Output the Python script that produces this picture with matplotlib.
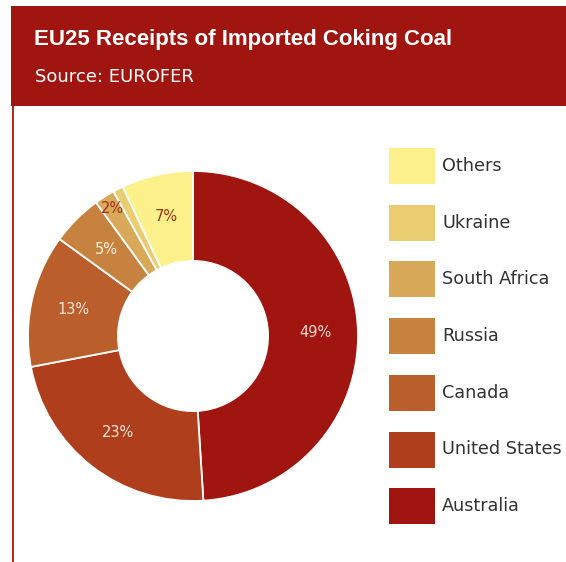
import matplotlib
matplotlib.use("Agg")
import matplotlib.pyplot as plt
from matplotlib.patches import Rectangle

# Share of EU25 coking coal imports by origin (percent)
countries = ["Australia", "United States", "Canada", "Russia",
             "South Africa", "Ukraine", "Others"]
shares = [49, 23, 13, 5, 2, 1, 7]
colors = ["#A0150F", "#AF3F1C", "#BA5E2C", "#C8823F",
          "#D9A95A", "#EACD70", "#FBF08A"]
label_colors = ["#F3D6CE", "#F8E6DC", "#F8E6DC", "#FBF0E0",
                "#A0301A", None, "#A0301A"]
legend_order = ["Others", "Ukraine", "South Africa", "Russia",
                "Canada", "United States", "Australia"]

title = "EU25 Receipts of Imported Coking Coal"
subtitle = "Source: EUROFER"

W, H = 566, 562
fig = plt.figure(figsize=(W / 100, H / 100), dpi=100)
fig.patch.set_facecolor("white")

# header band and left rule
bg = fig.add_axes([0, 0, 1, 1])
bg.set_xlim(0, W)
bg.set_ylim(H, 0)
bg.axis("off")
bg.add_patch(Rectangle((11, 6), W - 11, 100, color="#A0150F", lw=0))
bg.add_patch(Rectangle((12, 106), 2.2, H - 106, color="#B52A25", lw=0))
bg.text(34, 39.5, title, color="white", fontsize=16, fontweight="bold",
        family="Liberation Sans", va="center", ha="left")
bg.text(35, 77.5, subtitle, color="white", fontsize=13,
        family="DejaVu Sans", va="center", ha="left")

# donut
cx, cy, r = 193, 336, 165
ax = fig.add_axes([(cx - r) / W, (H - cy - r) / H, 2 * r / W, 2 * r / H])

wedges, texts, autotexts = ax.pie(
    shares, colors=colors, startangle=90, counterclock=False, radius=1,
    wedgeprops=dict(width=0.545, edgecolor="white", linewidth=1.3),
    autopct=lambda p: f"{p:.0f}%" if p >= 1.5 else "", pctdistance=0.74,
    textprops=dict(fontsize=10.5, family="DejaVu Sans"))
ax.set_xlim(-1, 1)
ax.set_ylim(-1, 1)
ax.axis("off")
for t, c, name in zip(autotexts, label_colors, countries):
    if c:
        t.set_color(c)
    if name == "South Africa":
        x, y = t.get_position()
        t.set_position((x * 0.915 / 0.74, y * 0.915 / 0.74))

# legend
box_x, box_w, box_h = 389, 46, 36
top0, step = 148, 56.7
for i, name in enumerate(legend_order):
    y0 = top0 + i * step
    bg.add_patch(Rectangle((box_x, y0), box_w, box_h,
                           color=colors[countries.index(name)], lw=0))
    bg.text(442, y0 + box_h / 2, name, color="#333333", fontsize=12.7,
            family="DejaVu Sans", va="center", ha="left")

fig.savefig("out.png", dpi=100, facecolor="white")
